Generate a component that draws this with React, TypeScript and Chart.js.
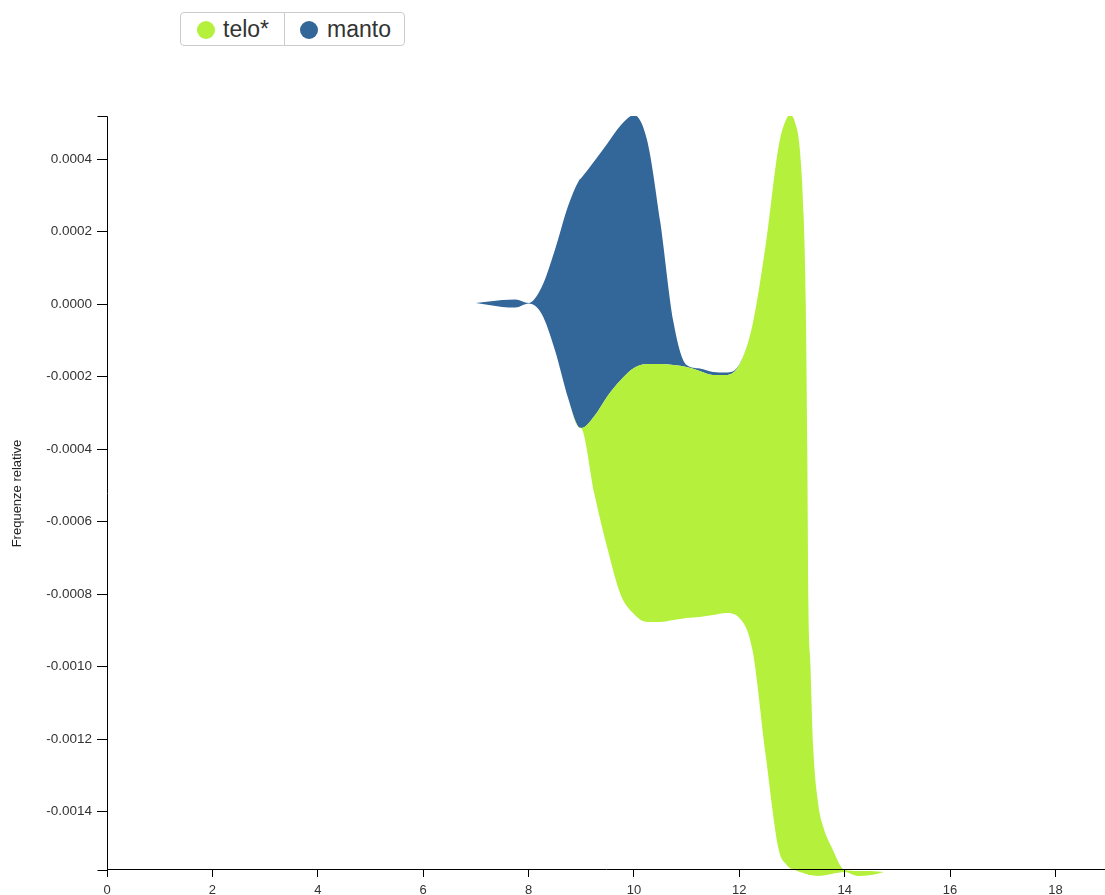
import React, { useEffect, useRef } from "react";
import { Chart, registerables } from "chart.js";

Chart.register(...registerables);

// ---- data ----
const X_VALUES = [
  7, 7.25, 7.5, 7.75, 8, 8.25, 8.5, 8.75, 8.95, 9, 9.25, 9.5, 9.75, 10, 10.25, 10.5, 10.75,
  11, 11.25, 11.5, 11.75, 12, 12.25, 12.5, 12.75, 12.9, 12.96, 13.05, 13.15, 13.22,
  13.26, 13.29, 13.31, 13.35, 13.4, 13.5, 13.6, 13.75, 14, 14.25, 14.5, 14.75,
];

// stream baseline (offset of the bottom layer)
const BASELINE = [
  0.0000028, -0.0000028, -0.0000083, -0.0000097, 0.0000014, -0.0000276, -0.0001269,
  -0.0002593, -0.0003393, -0.0003421, -0.0005241, -0.0006759, -0.0008028, -0.0008552,
  -0.0008772, -0.0008772, -0.0008717, -0.0008662, -0.0008634, -0.0008579, -0.0008524,
  -0.0008662, -0.0009545, -0.0012441, -0.0015062, -0.0015476, -0.0015559, -0.0015614,
  -0.0015669, -0.0015696, -0.0015724, -0.0015724, -0.0015752, -0.0015752, -0.0015765,
  -0.0015779, -0.0015765, -0.0015724, -0.0015669, -0.0015779, -0.0015752, -0.0015669,
];

const TELO = [
  0, 0, 0, 0, 0, 0, 0, 0, 0, 0, 0.0002152, 0.0004221, 0.0005931, 0.0006786, 0.0007117,
  0.0007117, 0.0007034, 0.0006924, 0.0006786, 0.0006621, 0.0006566, 0.0006979, 0.0008966,
  0.0014069, 0.0019448, 0.0020607, 0.0020772, 0.0020662, 0.0019917, 0.0018152, 0.0015834,
  0.0011696, 0.0007586, 0.0005793, 0.00036, 0.0001959, 0.000131, 0.0000745, 0.0000055,
  0.0000138, 0.000011, 0,
];

const MANTO = [
  0, 0.0000097, 0.0000193, 0.0000221, 0.0000014, 0.0000745, 0.0002759, 0.0005297,
  0.0006786, 0.0006897, 0.0007034, 0.0006979, 0.0007034, 0.0006979, 0.0006179, 0.0003917,
  0.0001186, 0.0000055, 0.0000069, 0.0000083, 0.0000069, 0.0000014, 0, 0, 0, 0, 0, 0, 0,
  0, 0, 0, 0, 0, 0, 0, 0, 0, 0, 0, 0, 0,
];

const SERIES_NAMES = ["telo*", "manto"];
const SERIES_COLORS = ["#b4f03c", "#336699"];

const X_TICKS = [0, 2, 4, 6, 8, 10, 12, 14, 16, 18];
const Y_TICKS = [
  -0.0014, -0.0012, -0.001, -0.0008, -0.0006, -0.0004, -0.0002, 0, 0.0002, 0.0004,
];
const X_MIN = 0;
const X_MAX = 18.94;
const Y_AXIS_AT = -0.001561; // where the x axis sits (bottom of the y domain)
const Y_MIN = -0.001589; // a little room below the axis for the overflowing stream
const Y_MAX = 0.000519;
const Y_TITLE = "Frequenze relative";

const FONT = 'Arial, "Liberation Sans", sans-serif';

// y axis domain line with d3-like outer ticks, ending on the x axis, plus its title
const yDomain = {
  id: "yDomain",
  afterDraw(chart: any) {
    const { ctx, chartArea } = chart;
    const ys = chart.scales.y;
    const x = Math.round(chartArea.left) + 0.5;
    const top = Math.round(chartArea.top) + 0.5;
    const bottom = Math.round(ys.getPixelForValue(Y_AXIS_AT)) + 0.5;
    ctx.save();
    ctx.strokeStyle = "#000";
    ctx.lineWidth = 1;
    ctx.beginPath();
    ctx.moveTo(x - 10, top);
    ctx.lineTo(x, top);
    ctx.lineTo(x, bottom);
    ctx.lineTo(x - 10, bottom);
    ctx.stroke();

    ctx.translate(17, (top + bottom) / 2);
    ctx.rotate(-Math.PI / 2);
    ctx.fillStyle = "#222";
    ctx.font = `13px ${FONT}`;
    ctx.textAlign = "center";
    ctx.textBaseline = "middle";
    ctx.fillText(Y_TITLE, 0, 0);
    ctx.restore();
  },
};

export default function App() {
  const canvasRef = useRef<HTMLCanvasElement>(null);

  useEffect(() => {
    const lower = X_VALUES.map((x, i) => ({ x, y: BASELINE[i] }));
    const mid = X_VALUES.map((x, i) => ({ x, y: BASELINE[i] + TELO[i] }));
    const top = X_VALUES.map((x, i) => ({ x, y: BASELINE[i] + TELO[i] + MANTO[i] }));

    Chart.defaults.font.family = FONT;

    const chart = new Chart(canvasRef.current as HTMLCanvasElement, {
      type: "line",
      data: {
        datasets: [
          {
            label: "baseline",
            data: lower,
            fill: false,
            borderColor: "rgba(0,0,0,0)",
            borderWidth: 0,
          },
          {
            label: SERIES_NAMES[0],
            data: mid,
            fill: "-1",
            backgroundColor: SERIES_COLORS[0],
            borderColor: SERIES_COLORS[0],
            borderWidth: 0,
          },
          {
            label: SERIES_NAMES[1],
            data: top,
            fill: "-1",
            backgroundColor: SERIES_COLORS[1],
            borderColor: SERIES_COLORS[1],
            borderWidth: 0,
          },
        ],
      },
      options: {
        responsive: false,
        animation: false,
        devicePixelRatio: 1,
        events: [],
        layout: { padding: { top: 116, left: 0, right: 0, bottom: 15 } },
        elements: {
          point: { radius: 0, hoverRadius: 0 },
          line: { cubicInterpolationMode: "monotone", capBezierPoints: false, borderWidth: 0 },
        },
        plugins: {
          legend: { display: false },
          tooltip: { enabled: false },
        },
        scales: {
          x: {
            type: "linear",
            position: { y: Y_AXIS_AT },
            min: X_MIN,
            max: X_MAX,
            afterBuildTicks: (s: any) => {
              s.ticks = X_TICKS.map((v) => ({ value: v }));
            },
            grid: { drawOnChartArea: false, tickLength: 7, color: "#000", z: 1 },
            border: { color: "#000", width: 1, z: 1 },
            ticks: {
              padding: 6,
              color: "#333",
              maxRotation: 0,
              autoSkip: false,
              font: { family: FONT, size: 13 },
              callback: (v: any) => String(v),
            },
          },
          y: {
            type: "linear",
            min: Y_MIN,
            max: Y_MAX,
            afterFit: (s: any) => {
              s.width = 107;
            },
            afterBuildTicks: (s: any) => {
              s.ticks = Y_TICKS.map((v) => ({ value: v }));
            },
            grid: { drawOnChartArea: false, tickLength: 10, color: "#000" },
            border: { display: false },
            ticks: {
              padding: 5,
              color: "#333",
              autoSkip: false,
              font: { family: FONT, size: 13.5 },
              callback: (v: any) => {
                const n = Math.abs(Number(v)) < 1e-12 ? 0 : Number(v);
                return n.toFixed(4);
              },
            },
          },
        },
      },
      plugins: [yDomain],
    } as any);

    return () => chart.destroy();
  }, []);

  const legendText: React.CSSProperties = {
    fontFamily: FONT,
    fontSize: 23,
    color: "#333",
    lineHeight: "32px",
  };
  const dot = (c: string): React.CSSProperties => ({
    width: 18,
    height: 18,
    borderRadius: "50%",
    background: c,
    marginRight: 8,
    marginTop: 2,
    flex: "none",
  });

  return (
    <div
      style={{
        position: "absolute",
        left: 0,
        top: 0,
        width: 1105,
        height: 895,
        background: "#fff",
        overflow: "hidden",
      }}
    >
      <canvas
        ref={canvasRef}
        width={1105}
        height={895}
        style={{ position: "absolute", left: 0, top: 0, width: 1105, height: 895 }}
      />
      <div
        style={{
          position: "absolute",
          left: 180,
          top: 12,
          width: 225,
          height: 34,
          boxSizing: "border-box",
          border: "1px solid #ccc",
          borderRadius: 4,
          display: "flex",
          alignItems: "center",
          background: "#fff",
        }}
      >
        <div
          style={{
            width: 103,
            height: 32,
            display: "flex",
            alignItems: "center",
            paddingLeft: 16,
            boxSizing: "border-box",
          }}
        >
          <span style={dot(SERIES_COLORS[0])} />
          <span style={legendText}>{SERIES_NAMES[0]}</span>
        </div>
        <div
          style={{
            flex: 1,
            height: 32,
            display: "flex",
            alignItems: "center",
            paddingLeft: 15,
            boxSizing: "border-box",
            borderLeft: "1px solid #ccc",
          }}
        >
          <span style={{ ...dot(SERIES_COLORS[1]), marginRight: 9 }} />
          <span style={legendText}>{SERIES_NAMES[1]}</span>
        </div>
      </div>
    </div>
  );
}
